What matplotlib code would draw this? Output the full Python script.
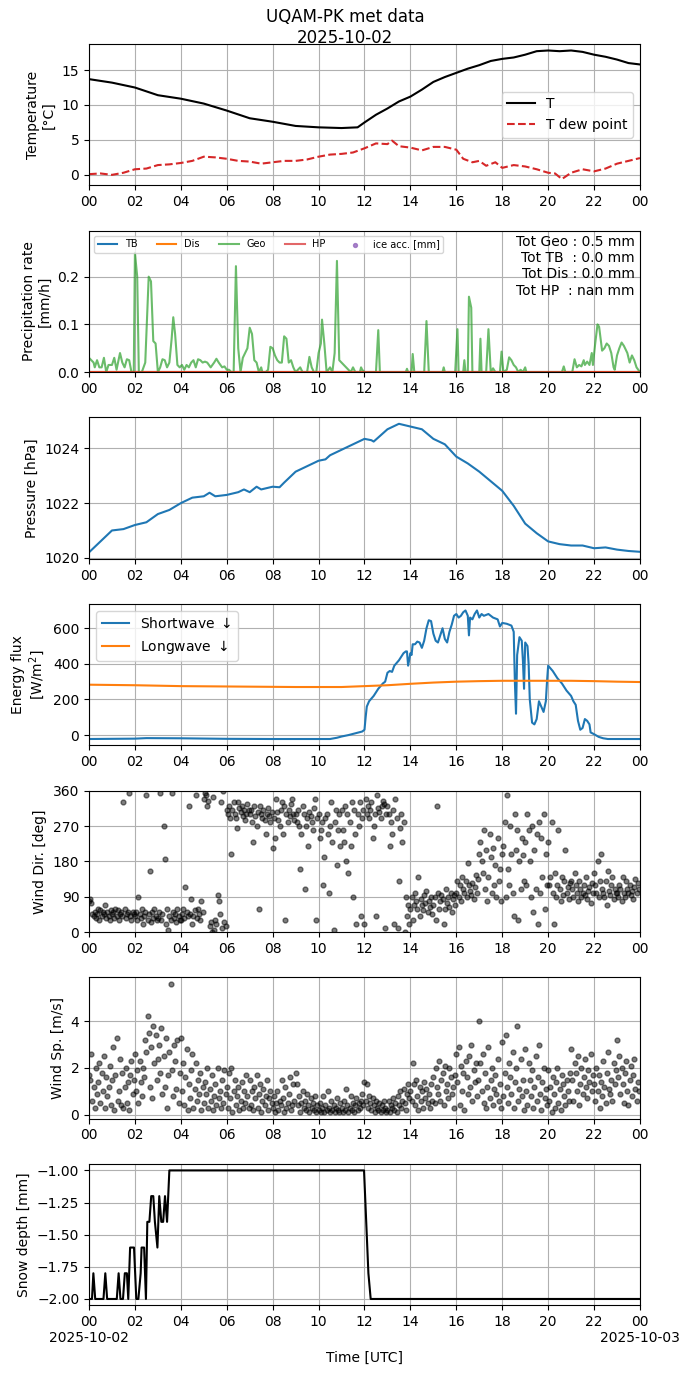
import numpy as np
import pandas as pd
import matplotlib
matplotlib.use("Agg")
import matplotlib.pyplot as plt
import matplotlib.dates as mdates

# ---- data (hours since 2025-10-02 00:00 UTC) ----
day0 = pd.Timestamp("2025-10-02 00:00")

temp_t = [0, 1, 2, 3, 4, 5, 6, 7, 8, 9, 10, 11, 11.7, 12, 12.5, 13, 13.5, 14, 14.5,
          15, 15.5, 16, 16.5, 17, 17.5, 18, 18.5, 19, 19.5, 20, 20.5, 21, 21.5, 22,
          22.5, 23, 23.5, 24]
temp = [13.7, 13.2, 12.5, 11.4, 10.9, 10.2, 9.2, 8.1, 7.6, 7.0, 6.8, 6.7, 6.8, 7.5,
        8.6, 9.5, 10.5, 11.2, 12.2, 13.3, 14.0, 14.6, 15.2, 15.7, 16.3, 16.6, 16.8,
        17.2, 17.7, 17.8, 17.7, 17.8, 17.6, 17.2, 16.9, 16.5, 16.0, 15.8]

dew_t = [0, 0.5, 1, 1.5, 2, 2.5, 3, 3.5, 4, 4.5, 5, 5.5, 6, 6.5, 7, 7.5, 8, 8.5, 9,
         9.5, 10, 10.5, 11, 11.5, 12, 12.5, 13, 13.2, 13.5, 14, 14.5, 15, 15.5, 16,
         16.3, 16.7, 17, 17.3, 17.7, 18, 18.5, 19, 19.5, 20, 20.3, 20.6, 21, 21.5, 22,
         22.5, 23, 23.5, 24]
dew = [0.1, 0.2, 0.0, 0.3, 0.8, 0.9, 1.4, 1.5, 1.7, 2.0, 2.6, 2.5, 2.3, 2.0, 1.9,
       1.6, 1.8, 2.0, 2.0, 2.2, 2.6, 2.9, 3.0, 3.2, 3.8, 4.5, 4.4, 4.9, 4.1, 3.9, 3.5,
       4.0, 4.0, 3.6, 2.3, 1.8, 2.0, 1.3, 1.8, 1.0, 1.4, 1.2, 0.8, 0.3, 0.2, -0.6,
       0.3, 0.8, 0.5, 0.9, 1.6, 2.0, 2.4]

geo_t = [0.0, 0.1, 0.2, 0.25, 0.35, 0.45, 0.55, 0.65, 0.75, 0.85, 1.0, 1.1, 1.2, 1.35,
         1.45, 1.55, 1.65, 1.75, 1.85, 1.95, 2.0, 2.1, 2.17, 2.3, 2.45, 2.6, 2.7, 2.8,
         2.9, 3.0, 3.1, 3.2, 3.3, 3.4, 3.5, 3.6, 3.67, 3.75, 3.85, 3.95, 4.05, 4.15,
         4.25, 4.35, 4.45, 4.55, 4.65, 4.75, 4.85, 4.95, 5.05, 5.15, 5.3, 5.45, 5.55,
         5.65, 5.8, 5.9, 6.0, 6.1, 6.2, 6.3, 6.4, 6.5, 6.6, 6.7, 6.8, 6.9, 7.0, 7.1,
         7.2, 7.3, 7.4, 7.5, 7.55, 7.7, 7.8, 7.9, 8.0, 8.1, 8.2, 8.3, 8.4, 8.5, 8.6,
         8.7, 8.8, 8.9, 9.0, 9.1, 9.2, 9.3, 9.5, 9.6, 9.7, 9.8, 9.9, 10.0, 10.1, 10.15,
         10.25, 10.35, 10.5, 10.6, 10.7, 10.8, 10.9, 11.0, 11.1, 11.2, 11.3, 11.4,
         11.5, 11.6, 11.8, 11.85, 11.9, 12.0, 12.5, 12.6, 12.67, 13.8, 13.85, 13.9,
         14.05, 14.1, 14.17, 14.6, 14.7, 14.8, 15.4, 15.45, 15.5, 15.95, 16.05, 16.1,
         16.3, 16.35, 16.4, 16.5, 16.55, 16.65, 16.7, 17.0, 17.05, 17.1, 17.3, 17.4,
         17.5, 17.6, 17.7, 17.9, 17.97, 18.05, 18.2, 18.3, 18.4, 18.5, 18.6, 18.7,
         18.8, 18.9, 19.0, 19.05, 20.6, 20.68, 20.75, 21.05, 21.15, 21.25, 21.35,
         21.45, 21.55, 21.6, 21.7, 21.8, 21.9, 21.95, 22.05, 22.15, 22.22, 22.35,
         22.45, 22.55, 22.65, 22.75, 22.85, 22.9, 23.0, 23.1, 23.2, 23.3, 23.45,
         23.55, 23.65, 23.75, 23.85, 24.0]
geo_rate = [0.03, 0.025, 0.02, 0.01, 0.025, 0.01, 0.01, 0.03, 0.0, 0.015, 0.015, 0.03,
            0.005, 0.04, 0.02, 0.01, 0.027, 0.025, 0.0, 0.0, 0.25, 0.2, 0.0, 0.0, 0.02,
            0.2, 0.19, 0.065, 0.06, 0.0, 0.01, 0.027, 0.025, 0.01, 0.02, 0.07, 0.115,
            0.08, 0.015, 0.01, 0.015, 0.005, 0.015, 0.01, 0.02, 0.025, 0.01, 0.027,
            0.025, 0.02, 0.022, 0.02, 0.01, 0.02, 0.028, 0.02, 0.01, 0.012, 0.005,
            0.005, 0.0, 0.0, 0.222, 0.05, 0.0, 0.03, 0.04, 0.05, 0.093, 0.08, 0.025,
            0.02, 0.0, 0.01, 0.0, 0.0, 0.005, 0.053, 0.05, 0.035, 0.025, 0.02, 0.02,
            0.075, 0.07, 0.02, 0.025, 0.01, 0.0, 0.005, 0.01, 0.0, 0.0, 0.032, 0.01,
            0.0, 0.0, 0.04, 0.06, 0.11, 0.06, 0.0, 0.01, 0.0, 0.04, 0.233, 0.025, 0.02,
            0.015, 0.01, 0.005, 0.0, 0.01, 0.0, 0.0, 0.01, 0.005, 0.0, 0.0, 0.088, 0.0,
            0.0, 0.007, 0.0, 0.0, 0.038, 0.0, 0.0, 0.107, 0.0, 0.0, 0.01, 0.0, 0.0,
            0.09, 0.0, 0.0, 0.025, 0.0, 0.0, 0.158, 0.135, 0.0, 0.0, 0.07, 0.0, 0.0,
            0.09, 0.0, 0.008, 0.0, 0.0, 0.043, 0.0, 0.005, 0.031, 0.025, 0.015, 0.01,
            0.0, 0.005, 0.0, 0.01, 0.0, 0.0, 0.012, 0.0, 0.0, 0.027, 0.01, 0.015, 0.012,
            0.025, 0.015, 0.022, 0.015, 0.04, 0.015, 0.06, 0.1, 0.095, 0.045, 0.05,
            0.06, 0.055, 0.04, 0.01, 0.005, 0.035, 0.05, 0.062, 0.055, 0.04, 0.02,
            0.035, 0.025, 0.01, 0.0]
tot_geo, tot_tb, tot_dis, tot_hp = 0.5, 0.0, 0.0, np.nan

pres_t = [0, 0.25, 0.5, 0.75, 1.0, 1.5, 2.0, 2.5, 3.0, 3.5, 4.0, 4.5, 5.0, 5.25, 5.5,
          6.0, 6.5, 6.75, 7.0, 7.3, 7.5, 8.0, 8.3, 8.5, 9.0, 9.5, 10.0, 10.3, 10.5,
          11.0, 11.5, 12.0, 12.3, 12.4, 12.6, 13.0, 13.5, 14.0, 14.5, 15.0, 15.5, 16.0,
          16.5, 17.0, 17.5, 18.0, 18.5, 19.0, 19.5, 20.0, 20.5, 21.0, 21.5, 22.0, 22.5,
          23.0, 23.5, 24.0]
pres = [1020.2, 1020.4, 1020.6, 1020.8, 1021.0, 1021.05, 1021.2, 1021.3, 1021.6,
        1021.75, 1022.0, 1022.2, 1022.25, 1022.38, 1022.25, 1022.3, 1022.4, 1022.5,
        1022.4, 1022.6, 1022.5, 1022.6, 1022.58, 1022.75, 1023.15, 1023.35, 1023.55,
        1023.6, 1023.75, 1023.95, 1024.15, 1024.35, 1024.3, 1024.25, 1024.4, 1024.7,
        1024.9, 1024.8, 1024.7, 1024.35, 1024.15, 1023.7, 1023.45, 1023.15, 1022.8,
        1022.45, 1021.9, 1021.25, 1020.9, 1020.6, 1020.5, 1020.45, 1020.45, 1020.35,
        1020.38, 1020.3, 1020.25, 1020.22]

sw_t = [0, 2, 2.5, 4, 6, 8, 10, 10.5, 10.8, 11.0, 11.3, 11.6, 11.9, 12.0, 12.05, 12.1,
        12.2, 12.4, 12.6, 12.8, 12.9, 13.0, 13.1, 13.2, 13.3, 13.5, 13.7, 13.8, 13.85,
        13.9, 14.0, 14.05, 14.1, 14.2, 14.3, 14.4, 14.5, 14.6, 14.7, 14.8, 14.9, 15.0,
        15.1, 15.2, 15.3, 15.4, 15.5, 15.6, 15.7, 15.8, 15.9, 16.0, 16.1, 16.2, 16.3,
        16.4, 16.5, 16.55, 16.6, 16.7, 16.8, 16.9, 17.0, 17.1, 17.2, 17.4, 17.6, 17.8,
        17.9, 18.0, 18.2, 18.4, 18.5, 18.55, 18.6, 18.65, 18.75, 18.85, 18.9, 18.95,
        19.0, 19.1, 19.15, 19.2, 19.3, 19.4, 19.5, 19.6, 19.7, 19.8, 19.9, 19.95, 20.0,
        20.2, 20.4, 20.6, 20.8, 21.0, 21.1, 21.2, 21.3, 21.4, 21.5, 21.6, 21.7, 21.8,
        21.85, 22.0, 22.2, 22.4, 22.6, 24]
sw = [-22, -20, -17, -18, -21, -22, -22, -22, -15, -8, 0, 10, 20, 30, 100, 160, 190,
      220, 260, 290, 300, 350, 360, 355, 390, 420, 460, 470, 470, 390, 460, 450, 510,
      510, 525, 520, 490, 530, 600, 645, 640, 570, 530, 520, 560, 600, 540, 520, 580,
      620, 670, 680, 660, 670, 690, 700, 670, 560, 660, 650, 680, 700, 660, 680, 670,
      680, 660, 650, 610, 630, 625, 615, 580, 300, 120, 450, 550, 530, 420, 260, 520,
      500, 400, 200, 70, 60, 90, 190, 160, 130, 190, 300, 390, 360, 320, 290, 250,
      220, 190, 170, 80, 30, 40, 90, 80, 60, 15, 5, -10, -18, -22, -22]

lw_t = [0, 2, 4, 6, 8, 9, 10, 11, 12, 13, 14, 15, 16, 17, 18, 19, 20, 21, 22, 23, 24]
lw = [283, 280, 275, 273, 271, 270, 270, 270, 275, 280, 288, 295, 300, 303, 305, 305,
      305, 305, 303, 300, 298]

# wind: 20 samples per hour (every 3 min), one row per hour
wind_dir = [
    80, 85, 75, 45, 40, 50, 35, 45, 60, 30, 55, 40, 50, 45, 70, 35, 50, 40, 30, 55,
    45, 50, 35, 60, 40, 55, 30, 45, 50, 40, 330, 60, 35, 45, 50, 355, 40, 30, 50, 45,
    40, 50, 30, 90, 45, 35, 60, 20, 40, 50, 350, 30, 45, 155, 25, 50, 35, 60, 40, 30,
    35, 50, 355, 30, 45, 270, 185, 20, 60, 5, 40, 30, 355, 50, 35, 45, 25, 60, 40, 30,
    30, 45, 60, 35, 115, 50, 40, 320, 45, 85, 20, 40, 55, 350, 35, 60, 45, 30, 80, 50,
    340, 355, 350, 320, 335, 15, 25, 0, 345, 5, 30, 20, 95, 80, 45, 330, 10, 360, 25, 15,
    310, 300, 320, 290, 200, 310, 330, 300, 290, 265, 330, 315, 305, 320, 295, 310, 285, 300, 325, 310,
    300, 310, 280, 230, 320, 295, 270, 305, 60, 320, 300, 290, 310, 285, 250, 300, 315, 295, 280, 305,
    215, 290, 240, 340, 305, 285, 270, 310, 330, 250, 320, 30, 300, 280, 310, 295, 325, 340, 300, 285,
    300, 280, 310, 270, 160, 250, 320, 300, 110, 270, 290, 220, 305, 295, 280, 260, 315, 340, 30, 290,
    300, 240, 260, 280, 120, 190, 290, 300, 250, 100, 270, 330, 230, 5, 280, 310, 170, 260, 300, 220,
    310, 260, 230, 320, 180, 300, 150, 280, 220, 330, 90, 310, 250, 20, 300, 270, 330, 40, 290, 310,
    20, 340, 300, 320, 290, 310, 330, 240, 270, 300, 40, 350, 315, 305, 290, 320, 335, 325, 10, 300,
    320, 300, 220, 280, 250, 310, 20, 340, 290, 10, 130, 265, 300, 230, 280, 0, 90, 40, 70, 20,
    60, 90, 30, 70, 100, 80, 60, 140, 40, 85, 70, 55, 95, 75, 105, 50, 80, 65, 90, 45,
    70, 90, 30, 320, 100, 60, 80, 95, 85, 20, 60, 110, 75, 90, 65, 100, 50, 85, 95, 70,
    100, 130, 90, 120, 80, 140, 110, 100, 130, 90, 175, 120, 105, 95, 125, 85, 115, 145, 100, 135,
    200, 230, 180, 150, 260, 110, 210, 80, 140, 250, 190, 100, 215, 120, 170, 90, 240, 130, 160, 80,
    200, 220, 280, 90, 350, 160, 120, 270, 200, 100, 40, 300, 210, 260, 30, 180, 110, 240, 195, 130,
    230, 120, 300, 260, 180, 90, 270, 50, 210, 110, 250, 20, 280, 100, 240, 140, 300, 60, 200, 120,
    230, 120, 140, 280, 100, 20, 150, 90, 120, 260, 110, 80, 140, 95, 130, 210, 100, 115, 85, 125,
    130, 110, 90, 150, 120, 100, 80, 130, 110, 90, 100, 120, 95, 140, 85, 105, 115, 75, 125, 100,
    150, 120, 100, 180, 90, 130, 200, 110, 100, 90, 130, 70, 155, 105, 95, 120, 140, 85, 110, 100,
    100, 90, 120, 110, 80, 140, 100, 90, 130, 110, 100, 120, 95, 105, 85, 115, 135, 100, 125, 110,
]
wind_sp = [
    1.7, 1.5, 2.6, 0.6, 1.2, 0.3, 2.0, 0.9, 1.4, 2.2, 0.5, 1.8, 1.0, 2.5, 0.3, 1.6, 0.8, 1.2, 2.1, 0.4,
    1.5, 2.9, 0.2, 1.7, 3.3, 0.6, 1.0, 2.4, 0.4, 1.8, 0.3, 1.2, 2.0, 0.5, 1.4, 0.2, 1.7, 2.3, 0.9, 1.5,
    2.6, 1.0, 1.9, 0.5, 2.3, 1.4, 0.8, 2.0, 1.6, 3.2, 2.7, 4.2, 3.5, 1.2, 2.9, 0.7, 3.8, 2.2, 3.4, 1.5,
    2.4, 3.0, 1.8, 3.7, 0.9, 2.5, 1.2, 3.3, 0.3, 1.7, 2.7, 5.6, 1.9, 0.8, 3.0, 2.3, 1.1, 3.2, 0.5, 1.8,
    3.3, 1.0, 2.2, 0.4, 1.6, 2.8, 0.2, 1.3, 0.7, 1.9, 2.6, 0.3, 1.1, 2.2, 0.6, 1.5, 0.9, 1.8, 0.2, 1.2,
    0.5, 1.4, 0.9, 2.0, 0.3, 1.1, 0.6, 1.7, 0.2, 0.8, 1.3, 0.4, 2.0, 0.7, 1.0, 0.3, 1.5, 0.5, 1.9, 0.9,
    1.2, 0.3, 1.8, 0.7, 2.0, 0.1, 1.0, 1.5, 0.4, 0.8, 1.2, 0.2, 0.6, 1.4, 0.3, 1.0, 0.5, 1.7, 0.8, 0.3,
    1.5, 0.4, 1.0, 0.2, 1.2, 0.7, 1.7, 0.3, 0.9, 1.3, 0.1, 0.6, 1.1, 0.4, 0.8, 1.5, 0.2, 0.7, 1.0, 0.5,
    0.3, 0.8, 0.1, 0.5, 1.0, 0.2, 0.6, 0.4, 1.5, 0.7, 0.1, 1.2, 0.3, 0.5, 0.9, 1.6, 0.2, 0.4, 1.3, 0.6,
    1.8, 1.3, 0.4, 0.8, 0.1, 0.5, 1.0, 0.3, 0.6, 0.2, 0.9, 0.4, 0.1, 0.7, 0.3, 0.5, 0.2, 0.8, 0.1, 0.4,
    0.2, 0.5, 0.1, 0.3, 0.8, 0.1, 0.4, 0.2, 1.0, 0.3, 0.1, 0.6, 0.2, 0.4, 0.1, 0.3, 0.7, 0.2, 0.1, 0.5,
    0.3, 0.1, 0.6, 0.2, 1.1, 0.4, 0.1, 0.3, 0.8, 0.2, 0.5, 0.1, 0.4, 0.7, 0.2, 0.5, 0.3, 0.6, 0.9, 0.4,
    1.4, 0.6, 1.3, 0.3, 0.8, 0.5, 0.2, 0.7, 0.4, 0.1, 0.6, 0.3, 0.2, 0.5, 0.1, 0.4, 0.2, 0.6, 0.3, 0.1,
    0.2, 0.6, 0.1, 0.4, 0.3, 0.7, 0.2, 0.5, 0.1, 0.8, 0.4, 1.0, 0.3, 0.6, 1.1, 0.5, 0.2, 0.9, 1.3, 0.7,
    1.0, 0.6, 2.2, 1.3, 0.4, 1.5, 0.8, 0.2, 1.2, 0.6, 1.0, 0.3, 1.4, 0.7, 1.1, 0.5, 0.9, 0.3, 1.3, 0.6,
    1.6, 0.5, 2.0, 1.2, 0.9, 2.3, 0.6, 1.5, 1.8, 0.4, 2.1, 1.0, 1.3, 0.7, 2.0, 1.6, 0.9, 1.2, 0.3, 1.7,
    2.6, 1.4, 2.9, 0.4, 2.1, 1.0, 1.8, 0.2, 2.3, 1.6, 0.9, 2.5, 1.2, 3.0, 0.6, 1.9, 1.4, 2.2, 0.8, 1.5,
    4.0, 2.2, 1.0, 2.6, 0.5, 1.8, 0.3, 1.2, 2.9, 0.7, 1.5, 2.0, 0.4, 1.1, 1.7, 0.9, 2.4, 0.6, 1.3, 0.3,
    3.1, 0.8, 1.8, 3.4, 1.2, 0.5, 2.2, 1.6, 0.9, 2.7, 0.3, 1.4, 2.0, 3.8, 0.6, 1.1, 2.4, 0.8, 1.5, 0.2,
    2.8, 1.0, 0.4, 2.2, 1.5, 0.8, 1.9, 0.3, 1.2, 2.5, 0.6, 1.6, 3.0, 0.9, 0.2, 1.4, 2.0, 0.7, 1.1, 0.4,
    1.9, 0.6, 1.2, 0.1, 1.6, 0.9, 0.3, 1.4, 2.0, 0.5, 1.1, 0.2, 1.7, 1.3, 0.8, 0.4, 1.5, 1.0, 0.6, 1.8,
    2.8, 1.5, 0.6, 2.2, 1.8, 1.0, 2.5, 0.4, 1.3, 2.0, 0.9, 1.6, 2.4, 1.2, 0.7, 1.9, 1.4, 2.6, 1.0, 1.7,
    1.3, 0.6, 2.0, 1.0, 1.7, 0.3, 1.4, 0.8, 2.3, 1.2, 0.5, 1.8, 2.7, 1.1, 0.9, 1.5, 0.6, 2.2, 1.3, 1.9,
    3.2, 1.6, 2.5, 0.9, 2.0, 1.3, 0.5, 1.8, 2.3, 1.0, 0.4, 1.5, 2.1, 0.8, 1.7, 2.4, 1.1, 0.6, 1.4, 1.0,
]

snow_t = [0, 0.13, 0.19, 0.27, 0.63, 0.71, 0.79, 1.21, 1.29, 1.37, 1.48, 1.56, 1.65,
          1.71, 1.79, 1.96, 2.06, 2.15, 2.25, 2.29, 2.4, 2.48, 2.54, 2.63, 2.71, 2.8,
          2.87, 2.98, 3.06, 3.15, 3.23, 3.31, 3.4, 3.5, 11.98, 12.17, 12.27, 24]
snow = [-2.0, -2.0, -1.8, -2.0, -2.0, -1.8, -2.0, -2.0, -1.8, -2.0, -2.0, -1.8, -1.8,
        -2.0, -1.6, -1.6, -2.0, -2.0, -1.8, -1.6, -1.6, -2.0, -1.4, -1.4, -1.2, -1.2,
        -1.4, -1.6, -1.2, -1.4, -1.4, -1.2, -1.4, -1.0, -1.0, -1.8, -2.0, -2.0]


def to_time(hours):
    return day0 + pd.to_timedelta(np.asarray(hours, dtype=float), unit="h")


wind_hours = np.arange(len(wind_dir)) / 20.0

fig, axes = plt.subplots(7, 1, figsize=(6.9, 13.77), dpi=100)
fig.subplots_adjust(left=0.129, right=0.9275, top=0.968, bottom=0.052, hspace=0.32)
fig.suptitle("UQAM-PK met data\n2025-10-02", fontsize=12, y=0.994)

# temperature
ax = axes[0]
ax.plot(to_time(temp_t), temp, color="k", lw=1.5, label="T")
ax.plot(to_time(dew_t), dew, color="tab:red", ls="--", lw=1.5, label="T dew point")
ax.set_ylabel("Temperature\n[°C]")
ax.legend(loc="center right")

# precipitation
ax = axes[1]
zero = np.zeros(2)
ax.plot(to_time([0, 24]), zero, color="C0", lw=1.5, label="TB")
ax.plot(to_time([0, 24]), zero, color="C1", lw=1.5, label="Dis")
ax.plot(to_time(geo_t), geo_rate, color="C2", alpha=0.7, lw=1.5, label="Geo")
ax.plot(to_time([0, 24]), zero, color="C3", alpha=0.7, lw=1.5, label="HP")
ax.scatter([], [], color="C4", s=8, alpha=0.8, label="ice acc. [mm]")
ax.set_ylim(0, 1.185 * max(geo_rate))
ax.set_ylabel("Precipitation rate\n[mm/h]")
ax.legend(loc="upper left", ncol=5, fontsize=7)
ax.text(0.99, 0.97,
        f"Tot Geo : {tot_geo:.1f} mm\nTot TB  : {tot_tb:.1f} mm\n"
        f"Tot Dis : {tot_dis:.1f} mm\nTot HP  : {tot_hp:.1f} mm",
        transform=ax.transAxes, ha="right", va="top", multialignment="right",
        fontsize=10)

# pressure
ax = axes[2]
ax.plot(to_time(pres_t), pres, color="C0", lw=1.5)
ax.set_ylabel("Pressure [hPa]")

# radiation
ax = axes[3]
ax.plot(to_time(sw_t), sw, color="C0", lw=1.5, label="Shortwave $\\downarrow$")
ax.plot(to_time(lw_t), lw, color="C1", lw=1.5, label="Longwave $\\downarrow$")
ax.set_ylabel("Energy flux\n[W/m$^2$]")
ax.legend(loc="upper left")

# wind direction
ax = axes[4]
ax.plot(to_time(wind_hours), wind_dir, "o", color="k", alpha=0.5, ms=3.5)
ax.set_ylim(0, 360)
ax.set_yticks([0, 90, 180, 270, 360])
ax.set_ylabel("Wind Dir. [deg]")

# wind speed
ax = axes[5]
ax.plot(to_time(wind_hours), wind_sp, "o", color="k", alpha=0.5, ms=3.5)
ax.set_ylabel("Wind Sp. [m/s]")

# snow depth
ax = axes[6]
ax.plot(to_time(snow_t), snow, color="k", lw=1.5)
ax.set_ylabel("Snow depth [mm]")
ax.set_xlabel("Time [UTC]")

for ax in axes:
    ax.set_xlim(day0, day0 + pd.Timedelta(days=1))
    ax.xaxis.set_major_locator(mdates.HourLocator(interval=2))
    ax.xaxis.set_major_formatter(mdates.DateFormatter("%H"))
    ax.grid(True)


def bottom_fmt(x, pos=None):
    d = mdates.num2date(x)
    if d.hour == 0:
        return d.strftime("%H\n%Y-%m-%d")
    return d.strftime("%H")


axes[6].xaxis.set_major_formatter(plt.FuncFormatter(bottom_fmt))

fig.savefig("out.png", dpi=100)
